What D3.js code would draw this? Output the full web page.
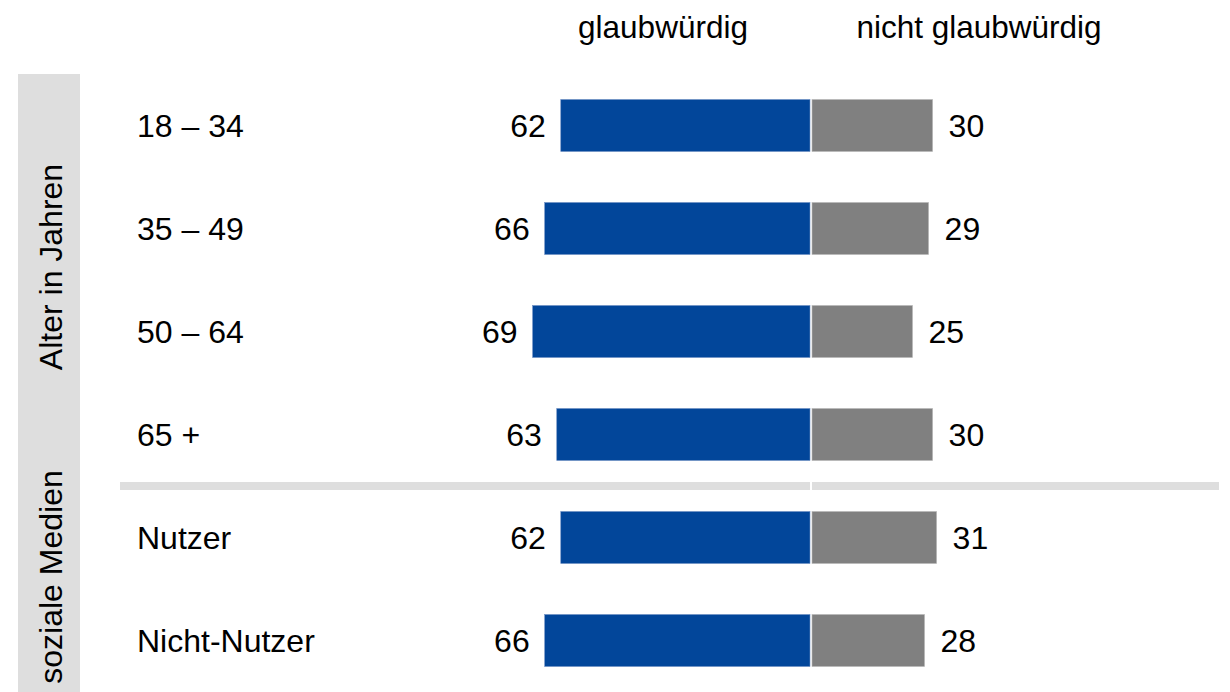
<!DOCTYPE html>
<html>
<head>
<meta charset="utf-8">
<script src="https://cdn.jsdelivr.net/npm/d3@7"></script>
<style>
  body { margin: 0; background: #fff; }
  text { font-family: "Liberation Sans", Arial, sans-serif; fill: #000; }
</style>
</head>
<body>
<svg id="chart" width="1230" height="692"></svg>
<script>
var categories = ["18 – 34", "35 – 49", "50 – 64", "65 +", "Nutzer", "Nicht-Nutzer"];
var glaubwuerdig = [62, 66, 69, 63, 62, 66];
var nichtGlaubwuerdig = [30, 29, 25, 30, 31, 28];
var seriesNames = ["glaubwürdig", "nicht glaubwürdig"];
var groupNames = ["Alter in Jahren", "soziale Medien"];
var groupCenters = [267, 577];

var svg = d3.select("#chart"),
    width = +svg.attr("width"),
    height = +svg.attr("height"),
    center = 811;

var data = categories.map(function(c, i) {
    return { cat: c, pos: glaubwuerdig[i], neg: nichtGlaubwuerdig[i] };
});

var y = d3.scaleBand()
    .domain(categories)
    .range([74, 692])
    .paddingInner(0.495)
    .paddingOuter(0.2475);

var x = d3.scaleLinear().domain([0, 100]).range([0, 402]);

// side band
svg.append("rect")
    .attr("x", 18).attr("y", 74)
    .attr("width", 62).attr("height", height - 74)
    .attr("fill", "#dedede");

// group labels
groupNames.forEach(function(g, i) {
    svg.append("text")
        .attr("transform", "translate(62," + groupCenters[i] + ") rotate(-90)")
        .style("text-anchor", "middle")
        .style("font-size", "32px")
        .text(g);
});

// separator between groups
var sepY = y("Nutzer") - y.step() * y.paddingInner() / 2;
svg.append("rect")
    .attr("x", 120).attr("y", sepY - 4)
    .attr("width", 1099).attr("height", 8)
    .attr("fill", "#dedede");
svg.append("rect")
    .attr("x", center - 1).attr("y", sepY - 5)
    .attr("width", 2).attr("height", 10)
    .attr("fill", "#fff");

// headers
svg.append("text")
    .attr("x", 663).attr("y", 38)
    .style("text-anchor", "middle")
    .style("font-size", "31.5px")
    .text(seriesNames[0]);
svg.append("text")
    .attr("x", 979).attr("y", 38)
    .style("text-anchor", "middle")
    .style("font-size", "31.5px")
    .text(seriesNames[1]);

var row = svg.selectAll(".row")
    .data(data)
    .enter().append("g")
    .attr("class", "row")
    .attr("transform", function(d) { return "translate(0," + y(d.cat) + ")"; });

var bh = y.bandwidth();

row.append("text")
    .attr("x", 137)
    .attr("y", bh / 2 + 12)
    .style("font-size", "32px")
    .text(function(d) { return d.cat; });

row.append("rect")
    .attr("x", function(d) { return center - 1 - x(d.pos); })
    .attr("y", 0)
    .attr("width", function(d) { return x(d.pos); })
    .attr("height", bh)
    .attr("fill", "#02469a")
    .attr("stroke", "#6f8fc4")
    .attr("stroke-width", 0.6);

row.append("rect")
    .attr("x", center + 1)
    .attr("y", 0)
    .attr("width", function(d) { return x(d.neg); })
    .attr("height", bh)
    .attr("fill", "#808080")
    .attr("stroke", "#b8b8b8")
    .attr("stroke-width", 0.6);

row.append("text")
    .attr("x", function(d) { return center - 1 - x(d.pos) - 15; })
    .attr("y", bh / 2 + 12)
    .style("text-anchor", "end")
    .style("font-size", "32px")
    .text(function(d) { return d.pos; });

row.append("text")
    .attr("x", function(d) { return center + 1 + x(d.neg) + 16; })
    .attr("y", bh / 2 + 12)
    .style("font-size", "32px")
    .text(function(d) { return d.neg; });
</script>
</body>
</html>
